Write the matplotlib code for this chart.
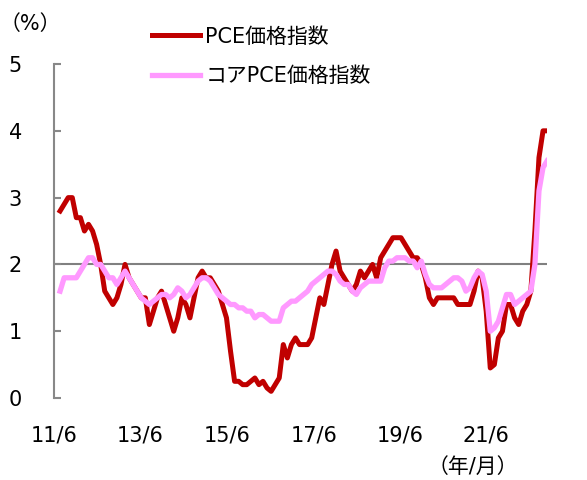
import numpy as np
import matplotlib
matplotlib.use('Agg')
import matplotlib.pyplot as plt

plt.rcParams['font.family'] = ['DejaVu Sans', 'Noto Sans CJK JP']

# monthly, 2011/6 - 2021/6, y/y %
pce = [2.8, 2.9, 3.0, 3.0, 2.7, 2.7, 2.5, 2.6, 2.5, 2.3, 2.0, 1.6,
       1.5, 1.4, 1.5, 1.7, 2.0, 1.8, 1.7, 1.6, 1.5, 1.5, 1.1, 1.3,
       1.5, 1.6, 1.4, 1.2, 1.0, 1.2, 1.5, 1.4, 1.2, 1.5, 1.8, 1.9,
       1.8, 1.8, 1.7, 1.6, 1.4, 1.2, 0.7, 0.25, 0.25, 0.2, 0.2, 0.25,
       0.3, 0.2, 0.25, 0.15, 0.1, 0.2, 0.3, 0.8, 0.6, 0.8, 0.9, 0.8,
       0.8, 0.8, 0.9, 1.2, 1.5, 1.4, 1.7, 2.0, 2.2, 1.9, 1.8, 1.7,
       1.6, 1.7, 1.9, 1.8, 1.9, 2.0, 1.8, 2.1, 2.2, 2.3, 2.4, 2.4,
       2.4, 2.3, 2.2, 2.1, 2.1, 2.0, 1.8, 1.5, 1.4, 1.5, 1.5, 1.5,
       1.5, 1.5, 1.4, 1.4, 1.4, 1.4, 1.6, 1.9, 1.8, 1.3, 0.45, 0.5,
       0.9, 1.0, 1.4, 1.4, 1.2, 1.1, 1.3, 1.4, 1.6, 2.5, 3.6, 4.0,
       4.0]
core = [1.6, 1.8, 1.8, 1.8, 1.8, 1.9, 2.0, 2.1, 2.1, 2.0, 2.0, 1.9,
        1.8, 1.8, 1.7, 1.8, 1.9, 1.8, 1.7, 1.6, 1.5, 1.45, 1.4, 1.45,
        1.5, 1.55, 1.55, 1.5, 1.55, 1.65, 1.6, 1.5, 1.55, 1.65, 1.75, 1.8,
        1.8, 1.75, 1.65, 1.55, 1.5, 1.45, 1.4, 1.4, 1.35, 1.35, 1.3, 1.3,
        1.2, 1.25, 1.25, 1.2, 1.15, 1.15, 1.15, 1.35, 1.4, 1.45, 1.45, 1.5,
        1.55, 1.6, 1.7, 1.75, 1.8, 1.85, 1.9, 1.9, 1.85, 1.75, 1.7, 1.7,
        1.6, 1.55, 1.65, 1.7, 1.75, 1.75, 1.75, 1.75, 1.95, 2.05, 2.05, 2.1,
        2.1, 2.1, 2.05, 2.05, 1.95, 2.05, 1.85, 1.7, 1.65, 1.65, 1.65, 1.7,
        1.75, 1.8, 1.8, 1.75, 1.6, 1.65, 1.8, 1.9, 1.85, 1.6, 1.0, 1.05,
        1.15, 1.35, 1.55, 1.55, 1.4, 1.45, 1.5, 1.55, 1.6, 2.0, 3.1, 3.45,
        3.55]
xlabels = ['11/6', '13/6', '15/6', '17/6', '19/6', '21/6']
xlabel_pos = [-1.5, 19.8, 41.1, 62.5, 83.8, 105.0]
yticks = [0, 1, 2, 3, 4, 5]

x = np.arange(len(pce))

fig = plt.figure(figsize=(5.87, 4.8), dpi=100)
ax = fig.add_axes([0.092, 0.1708, 0.840, 0.6958])

ax.hlines(2, -1.5, len(pce) - 1, color='#808080', lw=1.5, zorder=1)
ax.plot(x, pce, color='#C00000', lw=3.6, label='PCE価格指数', zorder=3,
        solid_joinstyle='round')
ax.plot(x, core, color='#FF99FF', lw=3.8, label='コアPCE価格指数', zorder=4,
        solid_joinstyle='round')

ax.set_xlim(-1.5, len(pce) - 1)
ax.set_ylim(0, 5)
ax.set_yticks(yticks)
ax.set_xticks(xlabel_pos)
ax.set_xticklabels(xlabels)

for s in ['top', 'right', 'bottom']:
    ax.spines[s].set_visible(False)
ax.spines['left'].set_color('#888888')
ax.spines['left'].set_linewidth(1.5)
ax.tick_params(axis='y', direction='in', length=5, width=1.5, color='#888888',
               labelsize=15, pad=23)
ax.tick_params(axis='x', length=0, labelsize=15, pad=20)

fig.text(0.0, 0.949, '（%）', fontsize=15, va='center', ha='left')
fig.text(0.805, 0.027, '（年/月）', fontsize=15, va='center', ha='center')

ax.legend(loc='upper left', bbox_to_anchor=(0.245, 0.962),
          bbox_transform=fig.transFigure, frameon=False, fontsize=15,
          handlelength=2.3, handletextpad=0.25, labelspacing=0.95,
          borderaxespad=0)

fig.savefig('out.png', dpi=100)
